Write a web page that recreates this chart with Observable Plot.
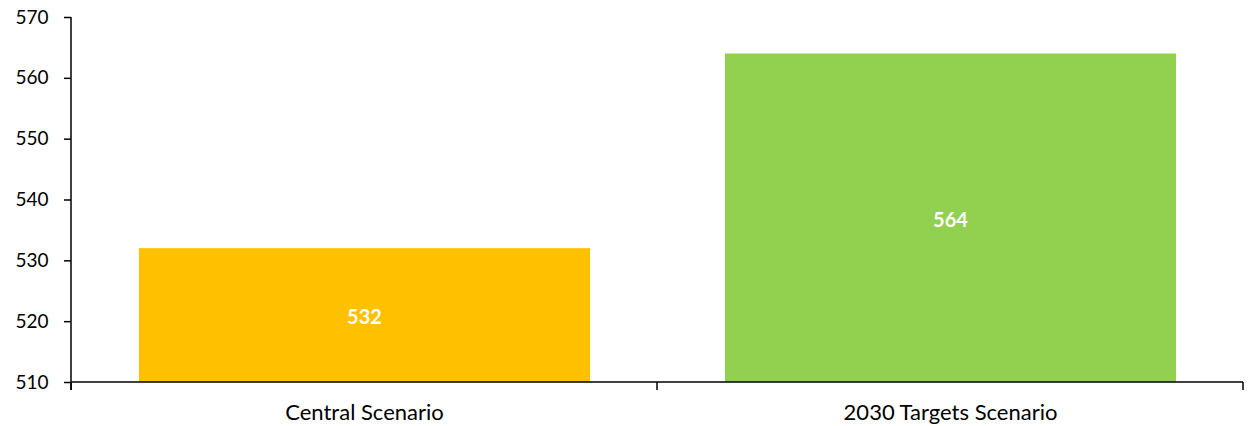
<!DOCTYPE html>
<html>
<head>
<meta charset="utf-8">
<script src="https://cdn.jsdelivr.net/npm/d3@7"></script>
<script src="https://cdn.jsdelivr.net/npm/@observablehq/plot@0.6"></script>
<style>
  html, body { margin: 0; padding: 0; background: #fff; }
  #chart svg { display: block; }
</style>
</head>
<body>
<div id="chart"></div>
<script>
const categories = ["Central Scenario", "2030 Targets Scenario"];
const values = [532, 564];
const colors = ["#FFC000", "#92D050"];
const yTicks = [510, 520, 530, 540, 550, 560, 570];
const yMin = 510, yMax = 570;

const data = categories.map((c, i) => ({ category: c, value: values[i], color: colors[i] }));

const font = "Lato, 'Open Sans', sans-serif";

const axisLines = (index, scales, values, dim) => {
  const g = d3.create("svg:g").attr("stroke", "#000").attr("fill", "none");
  const left = dim.marginLeft, right = dim.width - dim.marginRight;
  const bottom = dim.height - dim.marginBottom, top = dim.marginTop;
  g.append("line").attr("x1", left).attr("x2", left).attr("y1", top).attr("y2", bottom + 8).attr("stroke-width", 1.5);
  g.append("line").attr("x1", left).attr("x2", right).attr("y1", bottom).attr("y2", bottom).attr("stroke-width", 1.5);
  const bounds = categories.map(c => scales.x(c)).concat([right]);
  bounds.forEach(b => g.append("line").attr("x1", b).attr("x2", b).attr("y1", bottom).attr("y2", bottom + 8).attr("stroke-width", 1.5));
  return g.node();
};

const chart = Plot.plot({
  width: 1249,
  height: 426,
  marginLeft: 71,
  marginRight: 6,
  marginTop: 17,
  marginBottom: 44,
  style: { fontFamily: font, background: "#fff", color: "#000" },
  x: { domain: categories, padding: 0, label: null },
  y: { domain: [yMin, yMax], label: null },
  marks: [
    Plot.barY(data, {
      x: "category", y1: () => yMin, y2: "value",
      fill: "color", insetLeft: 68, insetRight: 67
    }),
    Plot.text(data, {
      x: "category", y: d => (yMin + d.value) / 2, dy: 2,
      text: d => String(d.value), fill: "#fff",
      fontWeight: "bold", fontSize: 20, fontFamily: font
    }),
    Plot.axisY({ ticks: yTicks, tickSize: 7, tickPadding: 16, fontSize: 19, label: null, strokeWidth: 1.5, fill: "#000" }),
    Plot.axisX({ tickSize: 0, tickPadding: 22, fontSize: 22, label: null, fill: "#000" }),
    axisLines
  ]
});
document.getElementById("chart").appendChild(chart);
</script>
</body>
</html>
